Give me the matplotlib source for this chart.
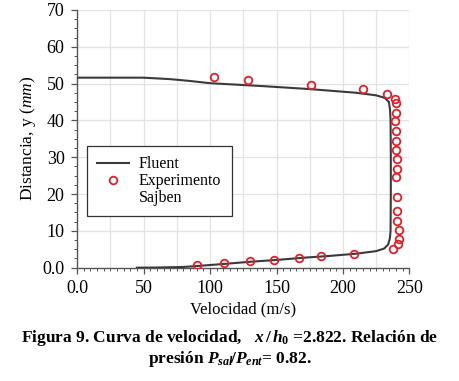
import matplotlib
matplotlib.use("Agg")
import matplotlib.pyplot as plt
from matplotlib.ticker import MultipleLocator, FuncFormatter
from matplotlib.lines import Line2D

plt.rcParams['font.family'] = ['Liberation Serif', 'DejaVu Serif']
plt.rcParams['mathtext.fontset'] = 'custom'
plt.rcParams['mathtext.rm'] = 'Liberation Serif:bold'
plt.rcParams['mathtext.it'] = 'Liberation Serif:italic:bold'
plt.rcParams['mathtext.bf'] = 'Liberation Serif:bold'
plt.rcParams['mathtext.sf'] = 'Liberation Serif:italic'

# Fluent simulation profile
fluent_vel = [45, 60, 80, 90, 110, 130, 150, 170, 190, 210, 225, 231, 234, 235.3, 235.8,
              236, 236, 235.8, 235.4, 234.5, 231.5, 225, 210, 175, 140, 120, 100, 85, 70, 50, 0]
fluent_y = [0.0, 0.05, 0.2, 0.45, 1.0, 1.6, 2.1, 2.7, 3.2, 3.8, 4.5, 5.2, 6.3, 8.0, 10,
            20, 30, 40, 43, 45, 46.1, 46.8, 47.5, 48.5, 49.3, 49.7, 50.1, 50.7, 51.2, 51.6, 51.6]

# Sajben experiment
exp_vel = [90.4, 110.5, 129.7, 147.9, 167.2, 183.7, 208.6, 237.9, 241.3, 241.9, 241.9,
           240.5, 240.5, 240.5, 240.1, 241.0, 240.5, 240.0, 240.0, 240.0, 239.2, 240.0,
           240.1, 238.8, 233.5, 214.9, 175.7, 128.5, 102.7]
exp_y = [0.6, 1.3, 1.7, 2.2, 2.6, 3.1, 3.8, 5.2, 6.4, 7.7, 10.2, 12.6, 15.3, 19.1, 24.6,
         26.9, 29.4, 31.9, 34.5, 37.1, 39.7, 42.1, 44.7, 45.9, 47.1, 48.5, 49.6, 50.9, 51.7]

legend_labels = ['Fluent', 'Experimento', 'Sajben']

fig = plt.figure(figsize=(4.59, 3.81), dpi=100)
ax = fig.add_axes([0.168, 0.2974, 0.724, 0.6766])

line_h, = ax.plot(fluent_vel, fluent_y, color='#3a3a3a', lw=1.5, zorder=3)
mark_h, = ax.plot(exp_vel, exp_y, ls='none', marker='o', ms=5.5, mfc='none', mec='#e0202a',
                  mew=1.3, zorder=4)

ax.set_xlim(0, 250)
ax.set_ylim(0, 70)
ax.xaxis.set_major_locator(MultipleLocator(50))
ax.xaxis.set_minor_locator(MultipleLocator(5))
ax.yaxis.set_major_locator(MultipleLocator(10))
ax.yaxis.set_minor_locator(MultipleLocator(2.5))
fmt = FuncFormatter(lambda v, p: '0.0' if v == 0 else f'{v:.0f}')
ax.xaxis.set_major_formatter(fmt)
ax.yaxis.set_major_formatter(fmt)

for gx in range(25, 251, 25):
    ax.axvline(gx, color='#e3e3e3', lw=0.9, zorder=0)
for gy in range(10, 71, 10):
    ax.axhline(gy, color='#e3e3e3', lw=0.9, zorder=0)

for s in ['top', 'right']:
    ax.spines[s].set_visible(False)
for s in ['left', 'bottom']:
    ax.spines[s].set_color('#555555')
    ax.spines[s].set_linewidth(1.0)
ax.tick_params(which='major', length=4, width=0.9, color='#555555', labelsize=13, pad=5)
ax.tick_params(which='minor', length=2.5, width=0.7, color='#555555')

ax.set_xlabel('Velocidad (m/s)', fontsize=12, labelpad=3)
ax.set_ylabel('Distancia, y ($\\mathsf{mm}$)', fontsize=12.5, labelpad=3)

blank = Line2D([], [], ls='none', marker=None)
leg = ax.legend([line_h, mark_h, blank], legend_labels, loc='upper left',
                bbox_to_anchor=(0.03, 0.472), borderaxespad=0, fontsize=11.5,
                frameon=True, fancybox=False, edgecolor='#333333', borderpad=0.65,
                handlelength=2.0, handletextpad=0.6, labelspacing=0.05, framealpha=1)
leg.get_frame().set_linewidth(0.9)

fig.text(0.5, 0.113, 'Figura 9. Curva de velocidad,   $x\\,/\\,h_{0}$ =2.822. Relación de',
         ha='center', va='center', fontsize=12.5, fontweight='bold')
fig.text(0.5, 0.058, 'presión $P_{sal}\\!/P_{ent}$= 0.82.',
         ha='center', va='center', fontsize=12.5, fontweight='bold')

fig.savefig('out.png', dpi=100)
